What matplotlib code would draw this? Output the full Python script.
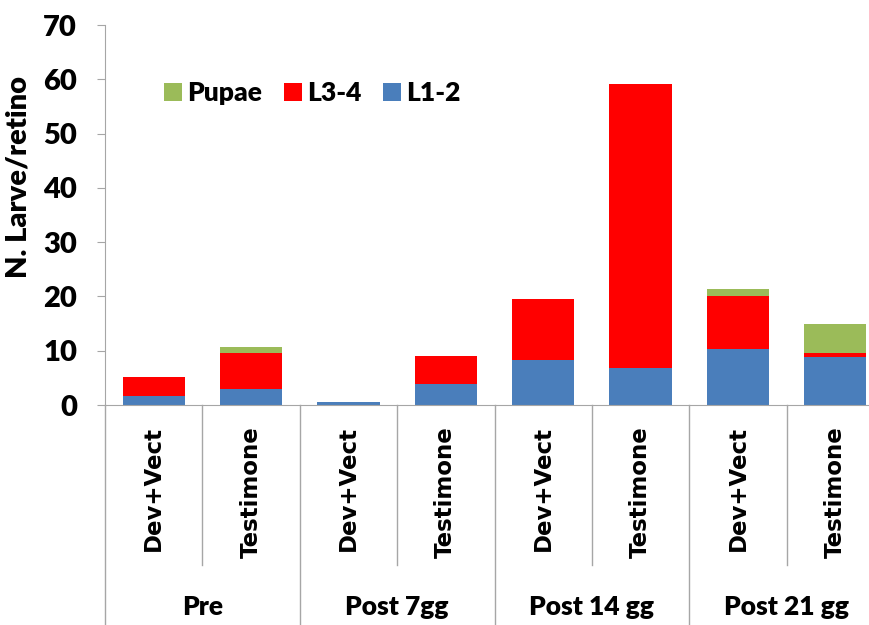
import numpy as np
import matplotlib.pyplot as plt
import matplotlib.transforms as mtransforms

# data
groups = ['Pre', 'Post 7gg', 'Post 14 gg', 'Post 21 gg']
treatments = ['Dev+Vect', 'Testimone']
l12 = [1.7, 3.0, 0.5, 3.9, 8.2, 6.8, 10.4, 8.8]
l34 = [3.4, 6.6, 0.0, 5.2, 11.3, 52.3, 9.7, 0.7]
pupae = [0.0, 1.0, 0.0, 0.0, 0.0, 0.0, 1.3, 5.4]

C_BLUE = '#4a7ebb'
C_RED = '#ff0000'
C_GREEN = '#9bbb59'
GRID = '#a6a6a6'
NARROW = ['Lato', 'DejaVu Sans']

fig = plt.figure(figsize=(8.69, 6.25), dpi=100)
ax = fig.add_axes([105 / 869, 220 / 625, 779 / 869, 380 / 625])

x = np.arange(len(l12))
w = 0.64
b1 = np.array(l12)
b2 = b1 + np.array(l34)
ax.bar(x, l12, w, color=C_BLUE, lw=0, label='L1-2')
ax.bar(x, l34, w, bottom=b1, color=C_RED, lw=0, label='L3-4')
ax.bar(x, pupae, w, bottom=b2, color=C_GREEN, lw=0, label='Pupae')

ax.set_xlim(-0.5, len(l12) - 0.5)
ax.set_ylim(0, 70)
ax.set_yticks(range(0, 71, 10))
ax.set_yticklabels([str(v) for v in range(0, 71, 10)], family=NARROW,
                   fontsize=21, fontweight='heavy')
ax.tick_params(axis='y', length=6, color=GRID, pad=14)
ax.set_xticks([])
for side in ['top', 'right']:
    ax.spines[side].set_visible(False)
ax.spines['left'].set_color(GRID)
ax.spines['bottom'].set_color(GRID)
ax.set_ylabel('N. Larve/retino', family=NARROW, fontsize=21, fontweight='heavy')
ax.yaxis.set_label_coords(-0.094, 0.60)

# category dividers below the axis
trans = mtransforms.blended_transform_factory(ax.transData, fig.transFigure)
for k in range(len(l12) + 1):
    xb = k - 0.5
    y_end = 0.0 if k % 2 == 0 else (625 - 565) / 625
    ax.plot([xb, xb], [220 / 625, y_end], color=GRID, lw=1,
            transform=trans, clip_on=False)

for i in range(len(l12)):
    ax.text(i, (625 - 426) / 625, treatments[i % 2], transform=trans, rotation=90,
            ha='center', va='top', fontsize=16.5, fontweight='bold',
            family='DejaVu Sans')
for g, name in enumerate(groups):
    ax.text(2 * g + 0.5, (625 - 607) / 625, name, transform=trans,
            ha='center', va='center', fontsize=19, fontweight='heavy',
            family=NARROW)

h, l = ax.get_legend_handles_labels()
ax.legend(h[::-1], l[::-1], loc='upper left', bbox_to_anchor=(0.045, 0.915),
          ncol=3, frameon=False, handlelength=0.7, handleheight=0.7,
          columnspacing=0.8, handletextpad=0.2,
          prop={'family': NARROW, 'size': 19, 'weight': 'heavy'})

fig.savefig('out.png', dpi=100)
